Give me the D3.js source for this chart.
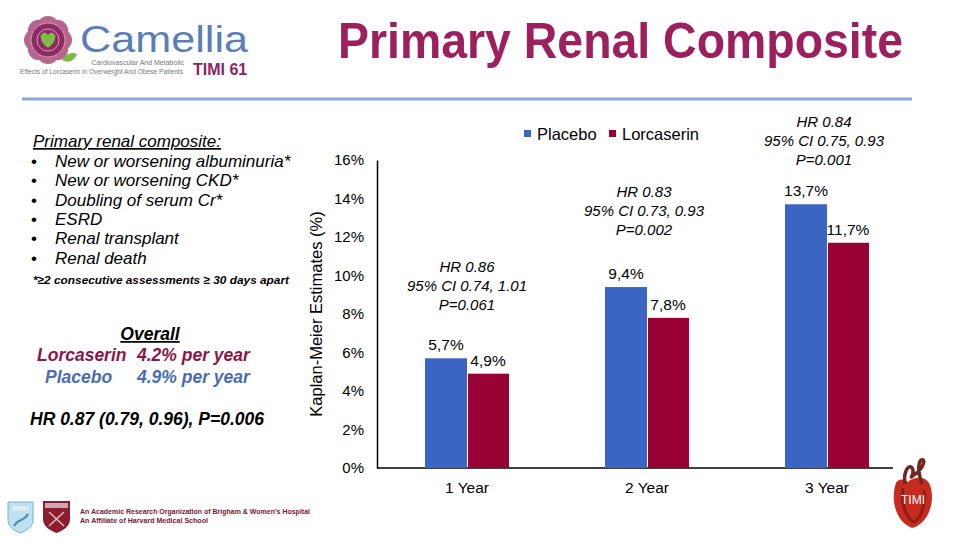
<!DOCTYPE html>
<html>
<head>
<meta charset="utf-8">
<script src="https://cdn.jsdelivr.net/npm/d3@7"></script>
<style>
  html, body { margin: 0; padding: 0; background: #ffffff; }
  svg { display: block; }
  text { font-family: "Liberation Sans", Arial, sans-serif; }
</style>
</head>
<body>
<svg id="chart" width="960" height="540"></svg>
<script>
// ---------- data ----------
const categories = ["1 Year", "2 Year", "3 Year"];
const seriesNames = ["Placebo", "Lorcaserin"];
const placeboValues = [5.7, 9.4, 13.7];
const lorcaserinValues = [4.9, 7.8, 11.7];
const yTickValues = [0, 2, 4, 6, 8, 10, 12, 14, 16];
const hrAnnotations = [
  ["HR 0.86", "95% CI 0.74, 1.01", "P=0.061"],
  ["HR 0.83", "95% CI 0.73, 0.93", "P=0.002"],
  ["HR 0.84", "95% CI 0.75, 0.93", "P=0.001"]
];
const compositeItems = [
  "New or worsening albuminuria*",
  "New or worsening CKD*",
  "Doubling of serum Cr*",
  "ESRD",
  "Renal transplant",
  "Renal death"
];
const titleText = "Primary Renal Composite";

// ---------- styles / layout constants ----------
const colors = { Placebo: "#3a65c2", Lorcaserin: "#990033" };
const hrGap = [48, 52, 39];   // gap between placebo bar top and annotation baseline
const FONT = '"Liberation Sans", Arial, sans-serif';

const svg = d3.select("#chart");

// header line
svg.append("line").attr("x1", 22).attr("x2", 912).attr("y1", 99).attr("y2", 99)
  .attr("stroke", "#8aa6d8").attr("stroke-width", 3);

// title
svg.append("text").attr("x", 338).attr("y", 58)
  .attr("font-family", "Lato, 'Open Sans', sans-serif").attr("font-weight", 700)
  .attr("font-size", 50).attr("fill", "#9c1f5e")
  .attr("textLength", 565).attr("lengthAdjust", "spacingAndGlyphs")
  .text(titleText);

// ---------- Camellia logo ----------
const logo = svg.append("g");
const petals = d3.range(8).map(i => i * Math.PI / 4);
logo.selectAll("circle.petal").data(petals).join("circle")
  .attr("cx", a => 48 + 13 * Math.cos(a)).attr("cy", a => 40 + 13 * Math.sin(a))
  .attr("r", 11).attr("fill", "#b4678b");
logo.append("circle").attr("cx", 48).attr("cy", 40).attr("r", 17).attr("fill", "#8e2a63");
logo.append("circle").attr("cx", 48).attr("cy", 40).attr("r", 17).attr("fill", "none")
  .attr("stroke", "#d89ab8").attr("stroke-width", 1);
logo.append("circle").attr("cx", 48).attr("cy", 40).attr("r", 11).attr("fill", "none")
  .attr("stroke", "#d89ab8").attr("stroke-width", 1);
logo.append("path").attr("d", "M48,48 C40,42 39,35 43,33 C46,32 48,34 48,36 C48,34 50,32 53,33 C57,35 56,42 48,48 Z")
  .attr("fill", "#7dbb44");
logo.append("path").attr("d", "M62,60 C66,53 73,52 77,54 C75,60 69,64 62,60 Z").attr("fill", "#7dbb44");
logo.append("text").attr("x", 80).attr("y", 52)
  .attr("font-family", "'Liberation Serif', 'DejaVu Serif', serif")
  .attr("font-size", 36).attr("fill", "#5b7db8")
  .attr("textLength", 168).attr("lengthAdjust", "spacingAndGlyphs").text("Camellia");
logo.append("text").attr("x", 184).attr("y", 65).attr("text-anchor", "end")
  .attr("font-size", 7).attr("fill", "#777").text("Cardiovascular And Metabolic");
logo.append("text").attr("x", 20).attr("y", 74)
  .attr("font-size", 7).attr("fill", "#777")
  .attr("textLength", 163).attr("lengthAdjust", "spacingAndGlyphs")
  .text("Effects of Lorcaserin in Overweight And Obese Patients");
logo.append("text").attr("x", 193).attr("y", 75)
  .attr("font-family", "'Open Sans', sans-serif").attr("font-weight", 700)
  .attr("font-size", 16).attr("fill", "#8c2363").text("TIMI 61");

// ---------- left panel ----------
const left = svg.append("g").attr("font-family", FONT);
left.append("text").attr("x", 33).attr("y", 147)
  .attr("font-size", 17).attr("font-style", "italic")
  .attr("text-decoration", "underline").text("Primary renal composite:");
compositeItems.forEach((t, i) => {
  const yy = 167 + i * 19.3;
  left.append("text").attr("x", 31).attr("y", yy).attr("font-size", 17).text("•");
  left.append("text").attr("x", 55).attr("y", yy)
    .attr("font-size", 17).attr("font-style", "italic").text(t);
});
left.append("text").attr("x", 33).attr("y", 284)
  .attr("font-size", 11.8).attr("font-style", "italic").attr("font-weight", 700)
  .attr("textLength", 256).attr("lengthAdjust", "spacingAndGlyphs")
  .text("*≥2 consecutive assessments ≥ 30 days apart");

left.append("text").attr("x", 150).attr("y", 340).attr("text-anchor", "middle")
  .attr("font-size", 17.5).attr("font-style", "italic").attr("font-weight", 700)
  .attr("text-decoration", "underline").text("Overall");
left.append("text").attr("x", 37).attr("y", 361)
  .attr("font-size", 17.5).attr("font-style", "italic").attr("font-weight", 700)
  .attr("fill", "#8a1747").text("Lorcaserin");
left.append("text").attr("x", 137).attr("y", 361)
  .attr("font-size", 17.5).attr("font-style", "italic").attr("font-weight", 700)
  .attr("fill", "#8a1747").text("4.2% per year");
left.append("text").attr("x", 45).attr("y", 383)
  .attr("font-size", 17.5).attr("font-style", "italic").attr("font-weight", 700)
  .attr("fill", "#4a6cb2").text("Placebo");
left.append("text").attr("x", 137).attr("y", 383)
  .attr("font-size", 17.5).attr("font-style", "italic").attr("font-weight", 700)
  .attr("fill", "#4a6cb2").text("4.9% per year");
left.append("text").attr("x", 30).attr("y", 425)
  .attr("font-size", 17.5).attr("font-style", "italic").attr("font-weight", 700)
  .text("HR 0.87 (0.79, 0.96), P=0.006");

// ---------- chart ----------
const y = d3.scaleLinear().domain([0, 16]).range([468, 160]);
const x = d3.scaleBand().domain(categories).range([377, 917])
  .paddingInner(96 / 180).paddingOuter(48 / 180);
const xs = d3.scaleBand().domain(seriesNames).range([0, x.bandwidth()]);

const yAxis = d3.axisLeft(y).tickValues(yTickValues).tickFormat(d => d + "%")
  .tickSize(0).tickSizeOuter(0).tickPadding(13);
const gy = svg.append("g").attr("transform", "translate(377,0)").call(yAxis);
gy.select(".domain").attr("stroke", "#000").attr("stroke-width", 1.5);
gy.selectAll("text").attr("font-family", FONT).attr("font-size", 15).attr("fill", "#000");

const xAxis = d3.axisBottom(x).tickSize(0).tickSizeOuter(0).tickPadding(14);
const gx = svg.append("g").attr("transform", "translate(0,468)").call(xAxis);
gx.select(".domain").remove();
gx.selectAll("text").attr("font-family", FONT).attr("font-size", 15.5).attr("fill", "#000");
svg.append("line").attr("x1", 377).attr("x2", x.range()[1] - 24)
  .attr("y1", y(0)).attr("y2", y(0)).attr("stroke", "#000").attr("stroke-width", 1.5);

// y-axis title
svg.append("text").attr("transform", "translate(322,314) rotate(-90)")
  .attr("text-anchor", "middle").attr("font-family", FONT).attr("font-size", 16.5)
  .text("Kaplan-Meier Estimates (%)");

const rows = categories.map((c, i) => ({
  cat: c,
  vals: [
    { s: "Placebo", v: placeboValues[i] },
    { s: "Lorcaserin", v: lorcaserinValues[i] }
  ]
}));

const groups = svg.selectAll("g.grp").data(rows).join("g")
  .attr("class", "grp").attr("transform", d => `translate(${x(d.cat)},0)`);
groups.selectAll("rect").data(d => d.vals).join("rect")
  .attr("x", d => xs(d.s) + (d.s === "Lorcaserin" ? 1 : 0))
  .attr("width", d => xs.bandwidth() - (d.s === "Lorcaserin" ? 1 : 0))
  .attr("y", d => y(d.v)).attr("height", d => y(0) - y(d.v))
  .attr("fill", d => colors[d.s]);
groups.selectAll("text.val").data(d => d.vals).join("text")
  .attr("class", "val")
  .attr("x", d => xs(d.s) + xs.bandwidth() / 2)
  .attr("y", d => y(d.v) - 8)
  .attr("text-anchor", "middle").attr("font-family", FONT).attr("font-size", 15.5)
  .text(d => d.v.toFixed(1).replace(".", ",") + "%");

// HR annotations
rows.forEach((r, i) => {
  const cx = x(r.cat) + x.bandwidth() / 2 - (i === 0 ? 0 : 3);
  const bottom = y(placeboValues[i]) - hrGap[i];
  const t = svg.append("text").attr("text-anchor", "middle")
    .attr("font-family", FONT).attr("font-size", 15).attr("font-style", "italic");
  hrAnnotations[i].forEach((line, j) => {
    t.append("tspan").attr("x", cx).attr("y", bottom - (2 - j) * 19).text(line);
  });
});

// legend
const lg = svg.append("g");
const legendX = [524, 609];
seriesNames.forEach((s, i) => {
  lg.append("rect").attr("x", legendX[i]).attr("y", 130).attr("width", 7).attr("height", 7)
    .attr("fill", colors[s]);
  lg.append("text").attr("x", legendX[i] + 13).attr("y", 140)
    .attr("font-family", FONT).attr("font-size", 16.5).text(s);
});

// ---------- bottom logos ----------
const bl = svg.append("g");
bl.append("path").attr("d", "M8,502 L33,502 L33,520 C33,527 26,531 20.5,533 C15,531 8,527 8,520 Z")
  .attr("fill", "#bfe1ef").attr("stroke", "#6fb0d2").attr("stroke-width", 1);
bl.append("text").attr("x", 20.5).attr("y", 511).attr("text-anchor", "middle")
  .attr("font-family", "'Liberation Serif', serif").attr("font-size", 7).attr("fill", "#fff").text("BWH");
bl.append("path").attr("d", "M14,526 C18,518 24,522 28,514").attr("stroke", "#4d8fb8")
  .attr("stroke-width", 2).attr("fill", "none");
bl.append("path").attr("d", "M43,501 L70,501 L70,519 C70,527 62,531 56.5,533 C51,531 43,527 43,519 Z")
  .attr("fill", "#8e1b2e");
bl.append("rect").attr("x", 45).attr("y", 503).attr("width", 23).attr("height", 5).attr("fill", "#c9a9ad");
bl.append("path").attr("d", "M49,512 L64,526 M64,512 L49,526").attr("stroke", "#d9c0c3").attr("stroke-width", 1.5);
bl.append("text").attr("x", 80).attr("y", 514).attr("font-size", 6.5).attr("font-weight", 700)
  .attr("fill", "#7a1733").attr("textLength", 230).attr("lengthAdjust", "spacingAndGlyphs")
  .text("An Academic Research Organization of Brigham & Women's Hospital");
bl.append("text").attr("x", 80).attr("y", 523).attr("font-size", 6.5).attr("font-weight", 700)
  .attr("fill", "#7a1733").attr("textLength", 128).attr("lengthAdjust", "spacingAndGlyphs")
  .text("An Affiliate of Harvard Medical School");

// TIMI logo
const tl = svg.append("g");
tl.append("path").attr("d", "M896,483 C890,500 896,522 912,528 C928,524 936,502 930,485 C925,474 912,478 908,482 C903,478 898,479 896,483 Z")
  .attr("fill", "#c72b20");
tl.append("path").attr("d", "M903,488 C900,505 908,520 914,522 C922,518 926,502 924,490")
  .attr("fill", "none").attr("stroke", "#8f1d16").attr("stroke-width", 3);
tl.append("path").attr("d", "M905,484 C903,470 910,462 913,470 C914,478 906,480 918,472 C924,466 926,458 921,460 C917,464 919,476 922,484")
  .attr("fill", "none").attr("stroke", "#6e2a22").attr("stroke-width", 3.5);
tl.append("text").attr("x", 913).attr("y", 504).attr("text-anchor", "middle")
  .attr("font-family", "'Liberation Serif', serif").attr("font-size", 12).attr("fill", "#fff").text("TIMI");
</script>
</body>
</html>
